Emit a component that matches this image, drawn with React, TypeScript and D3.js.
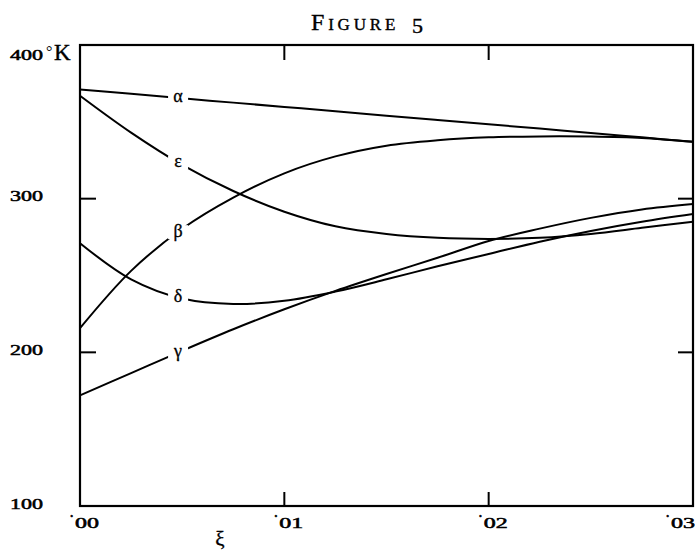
import React from "react";
import * as d3 from "d3";

// reduced concentration
const xi = [0, 0.0025, 0.005, 0.0075, 0.01, 0.0125, 0.015, 0.0175, 0.02, 0.0225, 0.025, 0.0275, 0.03];

// temperatures (°K) of the five curves
const alpha = [371, 368.2, 365.3, 362.5, 359.7, 356.9, 354, 351.2, 348.4, 345.6, 342.8, 339.9, 337];
const beta = [215.7, 253, 280.4, 300.7, 316.5, 327.5, 334.5, 338, 339.9, 340.5, 340.4, 339.5, 337];
const gamma = [172, 186.5, 201, 215, 228, 240, 251, 261.5, 272.5, 280.5, 287.5, 293, 296.5];
const delta = [271, 247.5, 235, 231.5, 233.5, 239.5, 247.5, 256, 264, 272, 279, 285, 290];
const epsilon = [367, 343, 322, 305, 291.5, 282, 277, 274.5, 273.8, 274.5, 277, 281, 285];

const curveNames = ["α", "β", "γ", "δ", "ε"];
const curveValues = [alpha, beta, gamma, delta, epsilon];
const labelXi = 0.0048;

const yTicks = [100, 200, 300, 400];
const yTickLabels = ["100", "200", "300", "400"];
const xTicks = [0, 0.01, 0.02, 0.03];
const xTickLabels = ["00", "01", "02", "03"];

const W = 695;
const H = 554;
const margin = { top: 45, right: 2, bottom: 48, left: 80 };
const serif = "'Liberation Serif', 'DejaVu Serif', serif";

export default function App() {
  const x = d3.scaleLinear().domain([0, 0.03]).range([margin.left, W - margin.right]);
  const y = d3.scaleLinear().domain([100, 400]).range([H - margin.bottom, margin.top]);

  const line = d3
    .line<number>()
    .x((_, i) => x(xi[i]))
    .y((d) => y(d))
    .curve(d3.curveCatmullRom.alpha(0.5));

  const x0 = x(0);
  const x1 = x(0.03);
  const y0 = y(100);
  const y1 = y(400);

  return (
    <svg
      width={W}
      height={H}
      style={{ position: "absolute", left: 0, top: 0, background: "#fff" }}
      fontFamily={serif}
    >
      <rect width={W} height={H} fill="#fff" />

      {/* title, small caps */}
      <text
        x={311}
        y={30}
        fontSize={24}
        letterSpacing={3.8}
        stroke="#000"
        strokeWidth={0.4}
        style={{ fontVariant: "small-caps" }}
      >
        Figure
      </text>
      <text x={412} y={33} fontSize={22} stroke="#000" strokeWidth={0.4}>
        5
      </text>

      {/* curves */}
      {curveValues.map((vals, i) => (
        <path key={i} d={line(vals) || ""} fill="none" stroke="#000" strokeWidth={2} />
      ))}

      {/* greek labels sitting in gaps of the curves */}
      {curveValues.map((vals, i) => {
        const ly = y(d3.scaleLinear().domain(xi).range(vals)(labelXi));
        const lx = x(labelXi);
        return (
          <g key={i}>
            <rect x={lx - 10} y={ly - 7} width={20} height={14} fill="#fff" />
            <text x={lx} y={ly + 4.5} fontSize={18} textAnchor="middle" stroke="#000" strokeWidth={0.3}>
              {curveNames[i]}
            </text>
          </g>
        );
      })}

      {/* frame */}
      <rect x={x0} y={y1} width={x1 - x0} height={y0 - y1} fill="none" stroke="#000" strokeWidth={2.2} />

      {/* inward ticks on all four sides */}
      {yTicks.slice(1, 3).map((t) => (
        <g key={t}>
          <line x1={x0} x2={x0 + 16} y1={y(t)} y2={y(t)} stroke="#000" strokeWidth={2} />
          <line x1={x1} x2={x1 - 15} y1={y(t)} y2={y(t)} stroke="#000" strokeWidth={2} />
        </g>
      ))}
      {xTicks.slice(1, 3).map((t) => (
        <g key={t}>
          <line x1={x(t)} x2={x(t)} y1={y0} y2={y0 - 14} stroke="#000" strokeWidth={2} />
          <line x1={x(t)} x2={x(t)} y1={y1} y2={y1 + 15} stroke="#000" strokeWidth={2} />
        </g>
      ))}

      {/* y tick labels */}
      {yTicks.map((t, i) => {
        const top = i === yTicks.length - 1;
        const by = top ? y(t) + 15 : y(t) + 2.5;
        return (
          <g key={t}>
            <text
              x={10}
              y={by}
              fontSize={14}
              textLength={33}
              lengthAdjust="spacingAndGlyphs"
              stroke="#000"
              strokeWidth={0.5}
            >
              {yTickLabels[i]}
            </text>
            {top && (
              <>
                <text x={46} y={by - 3} fontSize={16}>
                  °
                </text>
                <text x={54} y={by} fontSize={23} stroke="#000" strokeWidth={0.4}>
                  K
                </text>
              </>
            )}
          </g>
        );
      })}

      {/* x tick labels */}
      {xTicks.map((t, i) => {
        const lx = Math.min(x(t) - 5, 671);
        return (
          <g key={t}>
            <text x={lx - 6} y={522} fontSize={16} stroke="#000" strokeWidth={0.5}>
              ·
            </text>
            <text
              x={lx}
              y={528}
              fontSize={14}
              textLength={24}
              lengthAdjust="spacingAndGlyphs"
              stroke="#000"
              strokeWidth={0.5}
            >
              {xTickLabels[i]}
            </text>
          </g>
        );
      })}

      <text x={220} y={546} fontSize={21} textAnchor="middle" stroke="#000" strokeWidth={0.3}>
        ξ
      </text>
    </svg>
  );
}
